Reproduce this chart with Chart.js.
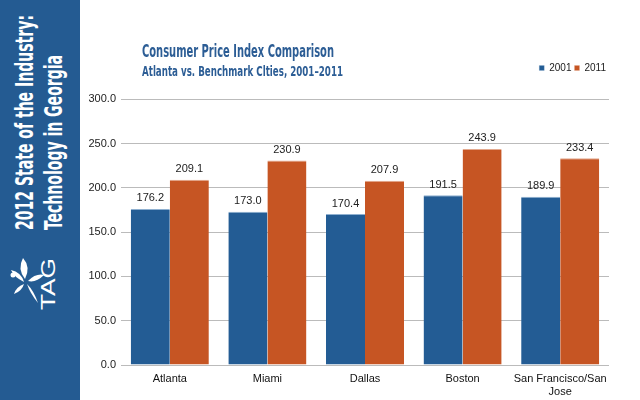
<!DOCTYPE html>
<html>
<head>
<meta charset="utf-8">
<script src="https://cdn.jsdelivr.net/npm/chart.js@4"></script>
<style>
  body { margin: 0; background: #fff; }
  #wrap { position: relative; width: 640px; height: 400px; overflow: hidden; }
  #chart { position: absolute; left: 0; top: 0; }
  svg.overlay { position: absolute; left: 0; top: 0; }
</style>
</head>
<body>
<div id="wrap">
  <canvas id="chart" width="640" height="400"></canvas>
  <svg class="overlay" width="640" height="400">
    <rect x="0" y="0" width="80" height="400" fill="#245b92"/>
    <g font-family="'Liberation Sans Narrow', 'DejaVu Sans Condensed', sans-serif" font-weight="bold" fill="#fff" font-size="25">
      <text transform="translate(33,230) rotate(-90)" textLength="215" lengthAdjust="spacingAndGlyphs">2012 State of the Industry:</text>
      <text transform="translate(62,230) rotate(-90)" textLength="175" lengthAdjust="spacingAndGlyphs">Technology in Georgia</text>
    </g>
    <g fill="#fff" transform="translate(26,281)">
      <path d="M-1,-2 Q-9,-12 -3,-23 Q5,-14 -1,-2 Z"/>
      <path d="M-2,1 Q-12,-4 -15,-11 Q-5,-9 -2,1 Z"/>
      <path d="M-2,3 Q-10,6 -12,13 Q-4,10 -2,3 Z"/>
      <path d="M1,3 Q4,12 12,22 Q8,10 1,3 Z"/>
      <path d="M2,0 Q10,-8 18,-6 Q10,2 2,0 Z"/>
      <circle cx="-13" cy="-6" r="2.5"/>
    </g>
    <text transform="translate(55,310) rotate(-90)" font-family="'Liberation Sans', Arial, sans-serif" font-size="21" fill="#fff" textLength="52" lengthAdjust="spacingAndGlyphs">TAG</text>
    <g font-family="'Liberation Sans Narrow', 'DejaVu Sans Condensed', sans-serif" font-weight="bold" fill="#2c5d95">
      <text x="142" y="57" font-size="18" textLength="192" lengthAdjust="spacingAndGlyphs">Consumer Price Index Comparison</text>
      <text x="142" y="76" font-size="14" textLength="201" lengthAdjust="spacingAndGlyphs">Atlanta vs. Benchmark Clties, 2001–2011</text>
    </g>
  </svg>
</div>
<script>
var categories = ["Atlanta", "Miami", "Dallas", "Boston", ["San Francisco/San", "Jose"]];
var seriesNames = ["2001", "2011"];
var values2001 = [176.2, 173.0, 170.4, 191.5, 189.9];
var values2011 = [209.1, 230.9, 207.9, 243.9, 233.4];
var yTicks = [0, 50, 100, 150, 200, 250, 300];

var blue = "#235c94";
var orange = "#c65523";

// numbers above each bar
var valueLabels = {
    id: "valueLabels",
    afterDatasetsDraw: function (chart) {
        var ctx = chart.ctx;
        ctx.save();
        ctx.font = "11px 'Liberation Sans', Arial, sans-serif";
        ctx.fillStyle = "#222";
        ctx.textAlign = "center";
        ctx.textBaseline = "bottom";
        chart.data.datasets.forEach(function (ds, i) {
            chart.getDatasetMeta(i).data.forEach(function (bar, j) {
                ctx.fillText(ds.data[j].toFixed(1), bar.x, bar.y - 5);
            });
        });
        ctx.restore();
    }
};

var ctx = document.getElementById("chart");
var chart = new Chart(ctx, {
    type: "bar",
    data: {
        labels: categories,
        datasets: [{
            label: seriesNames[0],
            data: values2001,
            backgroundColor: blue,
            borderColor: "#8fb0d0",
            borderWidth: { top: 1, left: 0, right: 0, bottom: 0 },
            borderSkipped: false
        }, {
            label: seriesNames[1],
            data: values2011,
            backgroundColor: orange,
            borderColor: "#e3a98e",
            borderWidth: { top: 1, left: 0, right: 0, bottom: 0 },
            borderSkipped: false
        }]
    },
    options: {
        responsive: false,
        animation: false,
        categoryPercentage: 0.8,
        barPercentage: 1.0,
        layout: {
            padding: { left: 80, right: 31, top: 60, bottom: 0 }
        },
        plugins: {
            legend: {
                position: "top",
                align: "end",
                labels: {
                    boxWidth: 5,
                    boxHeight: 5,
                    padding: 3,
                    color: "#222",
                    font: { size: 10, family: "'Liberation Sans', Arial, sans-serif" }
                }
            },
            // empty box under the legend, only to push the plot down
            subtitle: {
                display: true,
                text: "",
                weight: 500,
                font: { size: 1 },
                padding: { top: 0, bottom: 15 }
            },
            tooltip: { enabled: false }
        },
        scales: {
            x: {
                afterFit: function (scale) { scale.height = 35; },
                grid: { display: false, drawTicks: false },
                border: { display: false },
                ticks: {
                    color: "#111",
                    maxRotation: 0,
                    padding: 7,
                    font: { size: 11, family: "'Liberation Sans', Arial, sans-serif" }
                }
            },
            y: {
                min: 0,
                max: 300,
                afterFit: function (scale) { scale.width = 41; },
                afterBuildTicks: function (scale) {
                    scale.ticks = yTicks.map(function (v) { return { value: v }; });
                },
                grid: { color: "#bbbbbb", drawTicks: false },
                border: { display: false },
                ticks: {
                    color: "#222",
                    padding: 5,
                    font: { size: 11, family: "'Liberation Sans', Arial, sans-serif" },
                    callback: function (v) { return v.toFixed(1); }
                }
            }
        }
    },
    plugins: [valueLabels]
});
</script>
</body>
</html>
